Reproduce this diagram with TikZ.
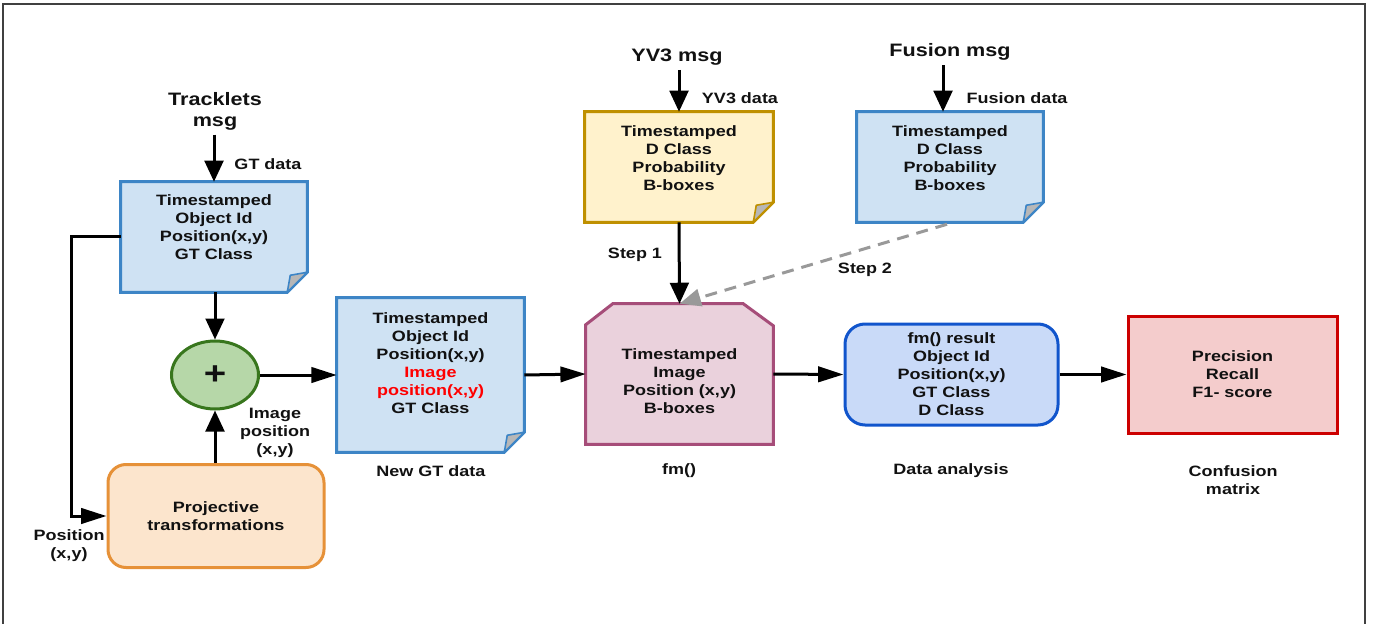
\documentclass[tikz,border=0pt]{standalone}
\usepackage{fontspec}
\setmainfont{Liberation Sans}[FakeStretch=1.2]
\usetikzlibrary{arrows.meta,calc,shapes.geometric}
\definecolor{bluef}{HTML}{CFE2F3}\definecolor{blued}{HTML}{3D85C6}
\definecolor{yelf}{HTML}{FFF2CC}\definecolor{yeld}{HTML}{BF9000}
\definecolor{grnf}{HTML}{B6D7A8}\definecolor{grnd}{HTML}{38761D}
\definecolor{orf}{HTML}{FCE5CD}\definecolor{ord}{HTML}{E69138}
\definecolor{pkf}{HTML}{EAD1DC}\definecolor{pkd}{HTML}{A64D79}
\definecolor{daf}{HTML}{C9DAF8}\definecolor{dad}{HTML}{1155CC}
\definecolor{cmf}{HTML}{F4CCCC}\definecolor{cmd}{HTML}{CC0000}
\definecolor{foldgray}{HTML}{B7B7B7}
\definecolor{txt}{HTML}{111111}
\definecolor{dashgray}{HTML}{999999}
\def\px{0.75pt}
\newcommand{\docpath}[3]{%
 \draw[line width=2.25pt, draw=#3, fill=#2, line join=miter]
  (#1.north west) -- (#1.north east) -- ($(#1.south east)+(0,-20)$) -- ($(#1.south east)+(-20,0)$) -- (#1.south west) -- cycle;
 \draw[line width=1.2pt, draw=#3, fill=foldgray, line join=round]
  ($(#1.south east)+(0,-20)$) -- ($(#1.south east)+(-20,0)$) -- ($(#1.south east)+(-17,-17)$) -- cycle;
}
\tikzset{
 every node/.style={font=\fontsize{11.25}{13.5}\selectfont\bfseries, text=txt, align=center},
 title/.style={font=\fontsize{13.5}{15.75}\selectfont\bfseries},
 frame/.style={draw=none, inner sep=0pt, minimum width=#1},
 varr/.style={line width=2.25pt, -{Triangle[length=15.75pt,width=14pt]}},
 harr/.style={line width=2.25pt, -{Triangle[length=19pt,width=11.5pt]}},
 rbox/.style={line width=2.25pt, inner sep=0pt},
}
\begin{document}
\begin{tikzpicture}[x=0.75pt,y=-0.75pt]
\useasboundingbox (0,0) rectangle (1375,624);
\draw[black!75, line width=1pt] (3,624) -- (3,4) -- (1365,4) -- (1365,624);

% ---- boxes (frames) ----
\node[frame=186*\px, minimum height=110*\px] (gt) at (214,237) {};
\docpath{gt}{bluef}{blued}
\node at (214,227.5) {Timestamped\\Object Id\\Position(x,y)\\GT Class};

\node[frame=187*\px, minimum height=154*\px] (ngt) at (430.5,375) {};
\docpath{ngt}{bluef}{blued}
\node at (430.5,363) {Timestamped\\Object Id\\Position(x,y)\\\textcolor{red}{Image}\\\textcolor{red}{position(x,y)}\\GT Class};

\node[frame=188*\px, minimum height=110*\px] (yv) at (679,167) {};
\docpath{yv}{yelf}{yeld}
\node at (679,158) {Timestamped\\D Class\\Probability\\B-boxes};

\node[frame=186*\px, minimum height=110*\px] (fu) at (950,167) {};
\docpath{fu}{bluef}{blued}
\node at (950,158) {Timestamped\\D Class\\Probability\\B-boxes};

\node[frame=187*\px, minimum height=140*\px] (fm) at (679.5,374) {};
\draw[line width=2.25pt, draw=pkd, fill=pkf, line join=miter]
 ($(fm.north west)+(0,21)$) -- ($(fm.north west)+(27,0)$) -- ($(fm.north east)+(-30,0)$) -- ($(fm.north east)+(0,22)$) -- (fm.south east) -- (fm.south west) -- cycle;
\node at (679.5,381) {Timestamped\\Image\\Position (x,y)\\B-boxes};

\node[ellipse, draw=grnd, fill=grnf, line width=2.25pt, inner sep=0pt, minimum width=87*\px, minimum height=68*\px, font=\fontsize{24}{24}\selectfont\bfseries] (plus) at (215,375) {+};

\node[rbox, draw=ord, fill=orf, rounded corners=13.5pt, minimum width=216*\px, minimum height=103*\px] (proj) at (216,516) {Projective\\transformations};

\node[rbox, draw=dad, fill=daf, rounded corners=15pt, minimum width=213*\px, minimum height=101*\px] (da) at (951.5,374.5) {fm() result\\Object Id\\Position(x,y)\\GT Class\\D Class};

\node[rbox, draw=cmd, fill=cmf, minimum width=209*\px, minimum height=117*\px] (cm) at (1232.5,374.5) {Precision\\Recall\\F1- score};

% ---- titles and labels ----
\node[title] (trk) at (215,111) {Tracklets\\msg};
\node[title] (yvm) at (677,57) {YV3 msg};
\node[title] (fum) at (950,52) {Fusion msg};
\node (gtd) at (268,164) {GT data};
\node (yvd) at (740,98) {YV3 data};
\node (fud) at (1017,98) {Fusion data};
\node (s1) at (635,255) {Step 1};
\node (s2) at (865,270) {Step 2};
\node (ipl) at (275,433) {Image\\position\\(x,y)};
\node (pol) at (69,545.5) {Position\\(x,y)};
\node (ngtl) at (431,471) {New GT data};
\node (fml) at (679,471) {fm()};
\node (dal) at (951,471) {Data analysis};
\node (cml) at (1233,480) {Confusion\\matrix};

% ---- connectors ----
\coordinate (fin) at ($(fu.north)+(-7,0)$);
\draw[varr] (gt.north |- trk.south) -- (gt.north);
\draw[varr] (yv.north |- yvm.south) -- (yv.north);
\draw[varr] (fin |- fum.south) -- (fin);
\draw[varr] (plus.north |- gt.south) -- (plus.north);
\draw[varr] (plus.south |- proj.north) -- (plus.south);
\draw[harr] (gt.west) -- ++(-49,0) |- (proj.west);
\draw[harr] (plus.east) -- (ngt.west);
\draw[harr] (ngt.east) -- (fm.west);
\draw[varr] (yv.south) -- (fm.north);
\draw[line width=2.25pt, draw=dashgray, dash pattern=on 9pt off 6pt, -{Triangle[length=16pt,width=13pt]}] ($(fu.south)+(-3,2)$) -- (fm.north);
\draw[harr] (fm.east) -- (da.west);
\draw[harr] (da.east) -- (cm.west);
\end{tikzpicture}
\end{document}
